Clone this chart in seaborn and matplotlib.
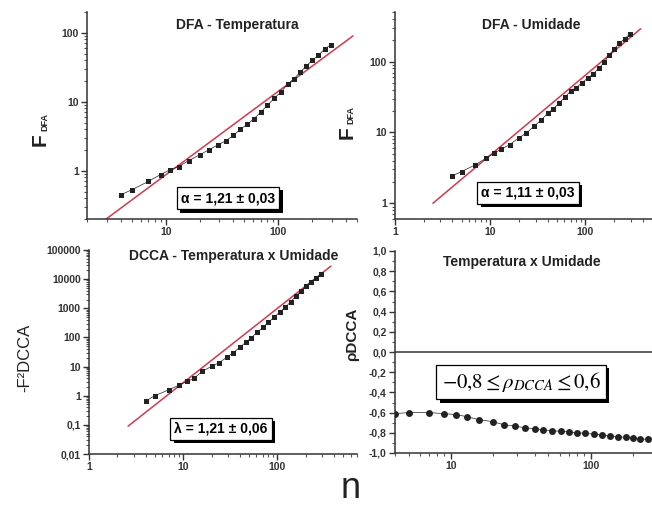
import numpy as np
import pandas as pd
import matplotlib
matplotlib.use("Agg")
import matplotlib.pyplot as plt
import matplotlib.patheffects as pe
from matplotlib.ticker import FixedLocator, FixedFormatter, LogLocator, NullFormatter, MultipleLocator
import seaborn as sns

# escala n (comum aos quatro painéis)
n = [4, 5, 7, 9, 11, 13, 16, 20, 24, 29, 34, 40, 46, 53, 61, 70, 80, 92,
     106, 121, 138, 157, 178, 200, 226, 258, 293]

# DFA - Temperatura
f_temp = [0.45, 0.53, 0.70, 0.88, 1.04, 1.15, 1.4, 1.7, 2.0, 2.37, 2.7, 3.25,
          4.0, 4.7, 5.7, 7.1, 8.9, 11.2, 14, 17.9, 21.6, 27, 33, 40, 47, 58, 67]
fit_temp_n = [2.5, 460]
fit_temp_f = [0.163, 90]

# DFA - Umidade
f_umid = [2.45, 2.8, 3.5, 4.3, 5.1, 5.8, 6.7, 8.4, 9.8, 12.3, 14.8, 18.5,
          21.5, 26, 31.5, 38.5, 43, 50, 59, 67, 80, 97, 125, 150, 180, 210, 244]
fit_umid_n = [2.5, 380]
fit_umid_f = [1.0, 290]

# DCCA - Temperatura x Umidade (-F^2)
f2_dcca = [0.66, 1.0, 1.58, 2.3, 3.1, 3.9, 6.9, 10.2, 13.4, 21, 30, 46, 67, 98,
           150, 220, 330, 490, 740, 1080, 1650, 2600, 3900, 5700, 7800, 11000, 15000]
fit_dcca_n = [2.6, 370]
fit_dcca_f = [0.09, 28000]

# rho DCCA
rho = [-0.61, -0.60, -0.60, -0.61, -0.62, -0.64, -0.67, -0.69, -0.72, -0.735,
       -0.75, -0.76, -0.77, -0.78, -0.785, -0.79, -0.80, -0.805, -0.815, -0.82,
       -0.83, -0.84, -0.845, -0.85, -0.86, -0.865, -0.87]

titles = ["DFA - Temperatura", "DFA - Umidade",
          "DCCA - Temperatura x Umidade", "Temperatura x Umidade"]
boxes = ["α = 1,21 ± 0,03", "α = 1,11 ± 0,03", "λ = 1,21 ± 0,06",
         r"$-0{,}8 \leq \rho_{DCCA} \leq 0{,}6$"]

sns.set_theme(style="ticks")
plt.rcParams["font.family"] = ["Liberation Sans", "DejaVu Sans"]
plt.rcParams["axes.linewidth"] = 1.1
plt.rcParams["axes.edgecolor"] = "#333333"

RED = "#d2394f"
INK = "#222222"
W, H = 652, 509

fig = plt.figure(figsize=(W / 100, H / 100), dpi=100, facecolor="white")


def px_axes(x0, y0, x1, y1):
    return fig.add_axes([x0 / W, 1 - y1 / H, (x1 - x0) / W, (y1 - y0) / H])


ax_tl = px_axes(87, 12, 357, 219)
ax_tr = px_axes(395, 12, 652, 219)
ax_bl = px_axes(89, 250, 357, 454)
ax_br = px_axes(395, 251, 652, 453)


def fmt(v):
    if v >= 1:
        return f"{v:g}"
    return f"{v:g}".replace(".", ",")


def log_ticks(ax, axis, majors):
    a = ax.xaxis if axis == "x" else ax.yaxis
    a.set_major_locator(FixedLocator(majors))
    a.set_major_formatter(FixedFormatter([fmt(v) for v in majors]))
    a.set_minor_locator(LogLocator(base=10, subs=np.arange(2, 10), numticks=50))
    a.set_minor_formatter(NullFormatter())


def style(ax):
    sns.despine(ax=ax)
    ax.set_facecolor("white")
    ax.tick_params(which="major", length=4, width=1, color="#333333",
                   labelsize=7.5, labelcolor="#333333", pad=2)
    ax.tick_params(which="minor", length=2, width=0.8, color="#555555")
    for lab in ax.get_xticklabels() + ax.get_yticklabels():
        lab.set_fontweight("bold")


def add_box(ax, x, y, s, pad=0.3, **kw):
    t = ax.text(x, y, s, transform=ax.transAxes, ha="center", va="center",
                color="black",
                bbox=dict(boxstyle=f"square,pad={pad}", fc="white", ec="black", lw=0.9),
                zorder=5, **kw)
    t.get_bbox_patch().set_path_effects(
        [pe.withSimplePatchShadow(offset=(2.4, -2.4), shadow_rgbFace="black", alpha=1.0)])
    return t


def dfa_panel(ax, y, fit_n, fit_f, marker):
    df = pd.DataFrame({"n": n, "y": y})
    fit = pd.DataFrame({"n": fit_n, "y": fit_f})
    ax.set_xscale("log")
    ax.set_yscale("log")
    sns.lineplot(data=fit, x="n", y="y", ax=ax, color=RED, lw=1.1, zorder=2)
    sns.lineplot(data=df, x="n", y="y", ax=ax, color=INK, lw=0.5, marker=marker,
                 markersize=3.6, markeredgewidth=0, zorder=3)
    ax.set_xlabel("")
    ax.set_ylabel("")


# painel 1
dfa_panel(ax_tl, f_temp, fit_temp_n, fit_temp_f, "s")
ax_tl.set_xlim(2, 500)
ax_tl.set_ylim(0.2, 200)
log_ticks(ax_tl, "x", [10, 100])
log_ticks(ax_tl, "y", [1, 10, 100])

# painel 2
dfa_panel(ax_tr, f_umid, fit_umid_n, fit_umid_f, "s")
ax_tr.set_xlim(1, 500)
ax_tr.set_ylim(0.6, 500)
log_ticks(ax_tr, "x", [1, 10, 100])
log_ticks(ax_tr, "y", [1, 10, 100])

# painel 3
dfa_panel(ax_bl, f2_dcca, fit_dcca_n, fit_dcca_f, "s")
ax_bl.set_xlim(1, 700)
ax_bl.set_ylim(0.01, 100000)
log_ticks(ax_bl, "x", [1, 10, 100])
log_ticks(ax_bl, "y", [0.01, 0.1, 1, 10, 100, 1000, 10000, 100000])

# painel 4
df_rho = pd.DataFrame({"n": n, "rho": rho})
ax_br.set_xscale("log")
ax_br.axhline(0, color="#333333", lw=1.1, zorder=1)
sns.lineplot(data=df_rho, x="n", y="rho", ax=ax_br, color=INK, lw=0.5,
             marker="o", markersize=5, markeredgewidth=0, zorder=3)
ax_br.set_xlabel("")
ax_br.set_ylabel("")
ax_br.set_xlim(4, 275)
ax_br.set_ylim(-1.0, 1.0)
log_ticks(ax_br, "x", [10, 100])
yt = np.round(np.arange(-1.0, 1.01, 0.2), 1)
ax_br.yaxis.set_major_locator(FixedLocator(yt))
ax_br.yaxis.set_major_formatter(FixedFormatter([f"{v:.1f}".replace(".", ",").replace("-0,0", "0,0") for v in yt]))
ax_br.yaxis.set_minor_locator(MultipleLocator(0.1))

for ax in (ax_tl, ax_tr, ax_bl, ax_br):
    style(ax)

# títulos
ax_tl.text(0.556, 0.937, titles[0], transform=ax_tl.transAxes, ha="center", va="center",
           fontsize=10, fontweight="bold", color=INK)
ax_tr.text(0.529, 0.937, titles[1], transform=ax_tr.transAxes, ha="center", va="center",
           fontsize=10, fontweight="bold", color=INK)
ax_bl.text(0.541, 0.97, titles[2], transform=ax_bl.transAxes, ha="center", va="center",
           fontsize=10, fontweight="bold", color=INK)
ax_br.text(0.494, 0.946, titles[3], transform=ax_br.transAxes, ha="center", va="center",
           fontsize=10, fontweight="bold", color=INK)

# caixas
add_box(ax_tl, 0.522, 0.101, boxes[0], fontsize=10, fontweight="bold")
add_box(ax_tr, 0.518, 0.126, boxes[1], fontsize=10, fontweight="bold")
add_box(ax_bl, 0.493, 0.123, boxes[2], fontsize=10, fontweight="bold")
add_box(ax_br, 0.49, 0.351, boxes[3], pad=0.25, fontsize=15, math_fontfamily="stix")

# rótulos dos eixos: F grande + índice DFA pequeno
for fx, fy, sx, sy in [(40, 140, 45, 122), (347, 133, 351, 115)]:
    fig.text(fx / W, 1 - fy / H, "F", rotation=90, ha="center", va="center",
             fontsize=15, fontweight="bold", color=INK)
    fig.text(sx / W, 1 - sy / H, "DFA", rotation=90, ha="center", va="center",
             fontsize=6.5, fontweight="bold", color=INK)
fig.text(25 / W, 1 - 358 / H, "-F²DCCA", rotation=90, ha="center", va="center",
         fontsize=12, color=INK)
fig.text(352 / W, 1 - 334 / H, "ρDCCA", rotation=90, ha="center", va="center",
         fontsize=11, fontweight="bold", color=INK)
fig.text(351 / W, 1 - 489 / H, "n", ha="center", va="center", fontsize=26, color=INK)

fig.savefig("out.png", dpi=100, facecolor="white")
